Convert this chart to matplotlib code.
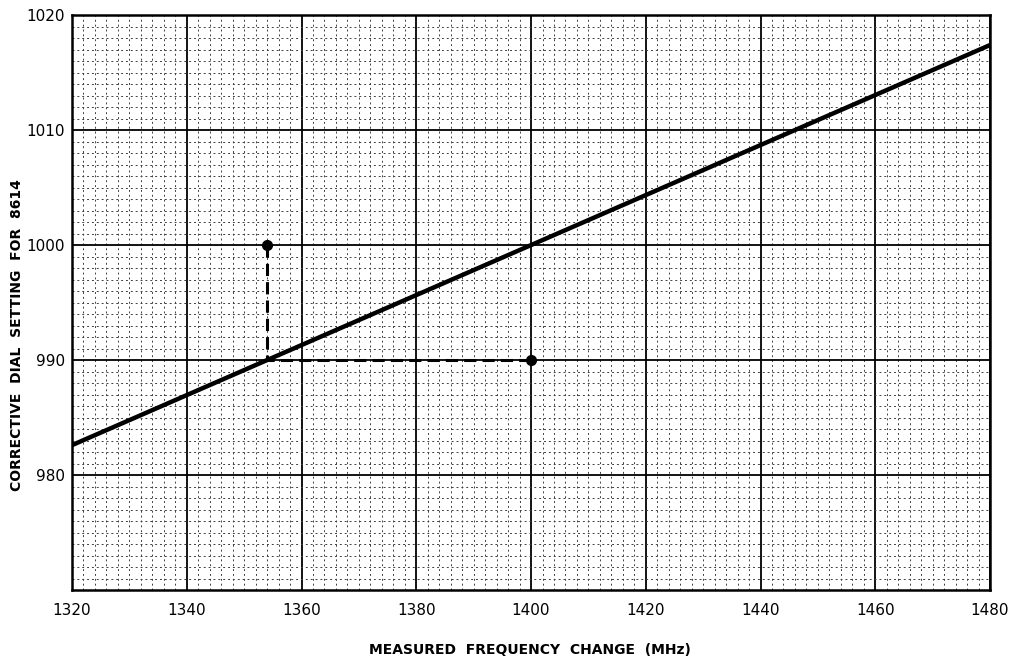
import matplotlib
matplotlib.use("Agg")
import matplotlib.pyplot as plt
import numpy as np

# calibration line (MHz -> dial setting)
line_x = [1320, 1354, 1400, 1480]
line_y = [982.6, 990.0, 1000.0, 1017.4]

# example read-off
guide_x = [1354, 1354, 1400]
guide_y = [1000, 990, 990]

x_ticks = [1320, 1340, 1360, 1380, 1400, 1420, 1440, 1460, 1480]
y_ticks = [980, 990, 1000, 1010, 1020]
y_tick_labels = ["980", "990", "1000", "1010", "1020"]

fig = plt.figure(figsize=(10.17, 6.58), dpi=100)
ax = fig.add_axes([0.0708, 0.1033, 0.9027, 0.8737])

ax.set_xlim(1320, 1480)
ax.set_ylim(970, 1020)

# graph paper
ax.set_xticks(np.arange(1320, 1481, 2), minor=True)
ax.set_yticks(np.arange(970, 1021, 1), minor=True)
ax.grid(which="minor", color="0.25", linestyle=(0, (2, 3)), linewidth=0.7)
ax.grid(which="major", color="black", linewidth=1.3)
ax.set_axisbelow(True)

ax.set_xticks(x_ticks)
ax.set_yticks(y_ticks)
ax.set_yticklabels(y_tick_labels)
ax.tick_params(which="both", length=0, labelsize=11)
ax.tick_params(axis="x", pad=9)
ax.tick_params(axis="y", pad=5)

for s in ax.spines.values():
    s.set_linewidth(1.8)

ax.plot(line_x, line_y, color="black", linewidth=3.2, solid_capstyle="butt", zorder=4)
ax.plot(guide_x, guide_y, color="black", linewidth=2.2, linestyle=(0, (4, 2)), zorder=5)
ax.plot([guide_x[0], guide_x[2]], [guide_y[0], guide_y[2]], "o", color="black",
        markersize=7, zorder=6)

fig.text(0.5215, 1 - 650 / 658, "MEASURED  FREQUENCY  CHANGE  (MHz)", ha="center",
         va="center", fontsize=10, fontweight="bold")
fig.text(17 / 1017, 1 - 335 / 658, "CORRECTIVE  DIAL  SETTING  FOR  8614", ha="center",
         va="center", rotation=90, fontsize=10, fontweight="bold")

fig.savefig("out.png", dpi=100)
